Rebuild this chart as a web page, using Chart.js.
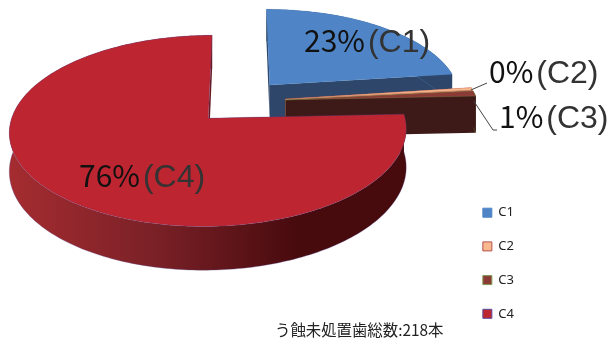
<!DOCTYPE html>
<html>
<head>
<meta charset="utf-8">
<title>C1-C4</title>
<script src="https://cdn.jsdelivr.net/npm/chart.js@4/dist/chart.umd.min.js"></script>
<style>
 html, body { margin: 0; padding: 0; background: #fff; }
 canvas { display: block; }
</style>
</head>
<body>
<canvas id="pieChart" width="610" height="344"></canvas>
<script>
const categories = ['C1', 'C2', 'C3', 'C4'];
const toothCounts = [50, 1, 2, 165];
const totalNote = 'う蝕未処置歯総数:218本';

const topColors = ['#4f85c6', '#f8b98f', '#8c3a36', '#bd2530'];
const edgeColors = ['#4f85c6', '#b5504a', '#7f9a52', '#5b4a9c'];
const sideColors = ['#2d4669', '#c98b62', '#3d1a17', null];

// where each value label starts and its baseline
const labelSpots = [[304, 52], [489, 83], [499, 128], [79, 187]];

// tilted view of the pie plane
const view = { cx: 240.5, cy: 101.5, rx: 192, ry: 89.5, persp: 0.13, depth: 37, shiftX: 0.94 };
const valueFont = '30px "Noto Sans CJK JP", "Noto Sans", sans-serif';
const nameFont = '32px "Liberation Sans", sans-serif';

function project(u, v, drop) {
 const s = 1 / (1 - view.persp * v);
 return { x: view.cx + view.rx * u * s, y: view.cy + view.ry * v * s + (drop || 0) * s };
}

function trace(ctx, pts) {
 ctx.beginPath();
 pts.forEach((p, i) => { if (i === 0) ctx.moveTo(p.x, p.y); else ctx.lineTo(p.x, p.y); });
}

// outline of one slice on the pie plane, using the angles the arc element got from the data
function sliceOutline(arc) {
 const shift = arc.options.offset / arc.outerRadius;
 const mid = (arc.startAngle + arc.endAngle) / 2;
 const ox = shift * Math.cos(mid) * view.shiftX;
 const oy = shift * Math.sin(mid);
 const steps = Math.max(2, Math.ceil((arc.endAngle - arc.startAngle) / 0.02));
 const rim = [];
 for (let i = 0; i <= steps; i++) {
  const a = arc.startAngle + (arc.endAngle - arc.startAngle) * i / steps;
  rim.push([ox + Math.cos(a), oy + Math.sin(a)]);
 }
 return { apex: [ox, oy], rim };
}

function drawSlice(ctx, arc, i) {
 const { apex, rim } = sliceOutline(arc);
 let sideFill = sideColors[i];
 if (!sideFill) {
  sideFill = ctx.createLinearGradient(8, 0, 300, 0);
  sideFill.addColorStop(0, '#a52c30');
  sideFill.addColorStop(0.5, '#7a2127');
  sideFill.addColorStop(1, '#470a0d');
 }
 ctx.fillStyle = sideFill;

 // cut faces
 [rim[0], rim[rim.length - 1]].forEach(p => {
  trace(ctx, [project(apex[0], apex[1]), project(p[0], p[1]), project(p[0], p[1], view.depth), project(apex[0], apex[1], view.depth)]);
  ctx.closePath();
  ctx.fill();
 });

 // outer wall, outlined along its lower rim only
 const lowerRim = rim.map(p => project(p[0], p[1], view.depth));
 trace(ctx, rim.map(p => project(p[0], p[1])).concat(lowerRim.slice().reverse()));
 ctx.closePath();
 ctx.fill();
 ctx.strokeStyle = arc.options.borderColor;
 ctx.globalAlpha = 0.5;
 ctx.lineWidth = 0.6;
 trace(ctx, lowerRim);
 ctx.stroke();
 ctx.globalAlpha = 1;

 // top face
 trace(ctx, [project(apex[0], apex[1])].concat(rim.map(p => project(p[0], p[1]))));
 ctx.closePath();
 ctx.fillStyle = arc.options.backgroundColor;
 ctx.fill();
 ctx.globalAlpha = 0.5;
 ctx.stroke();
 ctx.globalAlpha = 1;
}

function drawValueLabel(ctx, text, name, spot) {
 ctx.textAlign = 'left';
 ctx.textBaseline = 'alphabetic';
 ctx.font = valueFont;
 ctx.fillStyle = '#111';
 ctx.fillText(text, spot[0], spot[1]);
 const w = ctx.measureText(text).width;
 ctx.font = nameFont;
 ctx.fillStyle = '#333';
 ctx.fillText('(' + name + ')', spot[0] + w + 3, spot[1]);
}

// thin lines from the small slices to their labels
function drawLeaders(ctx, arcs) {
 const tip = i => {
  const { rim } = sliceOutline(arcs[i]);
  const p = rim[rim.length - 1];
  return project(p[0], p[1]);
 };
 ctx.strokeStyle = '#444';
 ctx.lineWidth = 1;
 const a = tip(1);
 ctx.beginPath();
 ctx.moveTo(a.x - 2, a.y);
 ctx.lineTo(labelSpots[1][0] - 2, labelSpots[1][1]);
 ctx.stroke();
 const b = tip(2);
 ctx.beginPath();
 ctx.moveTo(b.x - 2, b.y + 5);
 ctx.lineTo(labelSpots[2][0] - 6, labelSpots[2][1] + 2);
 ctx.lineTo(labelSpots[2][0] - 2, labelSpots[2][1] + 2);
 ctx.stroke();
}

const tiltedPie = {
 id: 'tiltedPie',
 beforeDatasetDraw(chart, args) {
  const ctx = chart.ctx;
  const arcs = args.meta.data;
  ctx.save();
  arcs.forEach((arc, i) => drawSlice(ctx, arc, i));
  drawLeaders(ctx, arcs);
  const total = toothCounts.reduce((a, b) => a + b, 0);
  toothCounts.forEach((v, i) => {
   drawValueLabel(ctx, Math.round(v / total * 100) + '%', categories[i], labelSpots[i]);
  });
  ctx.font = '15.4px "Noto Sans CJK JP", sans-serif';
  ctx.fillStyle = '#222';
  ctx.fillText(totalNote, 275, 336);
  ctx.restore();
  // the flat arcs are replaced by the tilted ones above
  return false;
 }
};

new Chart(document.getElementById('pieChart').getContext('2d'), {
 type: 'pie',
 data: {
  labels: categories,
  datasets: [{
   data: toothCounts,
   backgroundColor: topColors,
   borderColor: edgeColors,
   borderWidth: 1,
   offset: 38
  }]
 },
 options: {
  responsive: false,
  animation: false,
  layout: { padding: { right: 86, bottom: 3 } },
  plugins: {
   tooltip: { enabled: false },
   legend: {
    position: 'right',
    align: 'end',
    labels: {
     boxWidth: 9,
     boxHeight: 9,
     padding: 20.7,
     color: '#222',
     font: { family: '"Noto Sans", sans-serif', size: 13 }
    }
   }
  }
 },
 plugins: [tiltedPie]
});
</script>
</body>
</html>
